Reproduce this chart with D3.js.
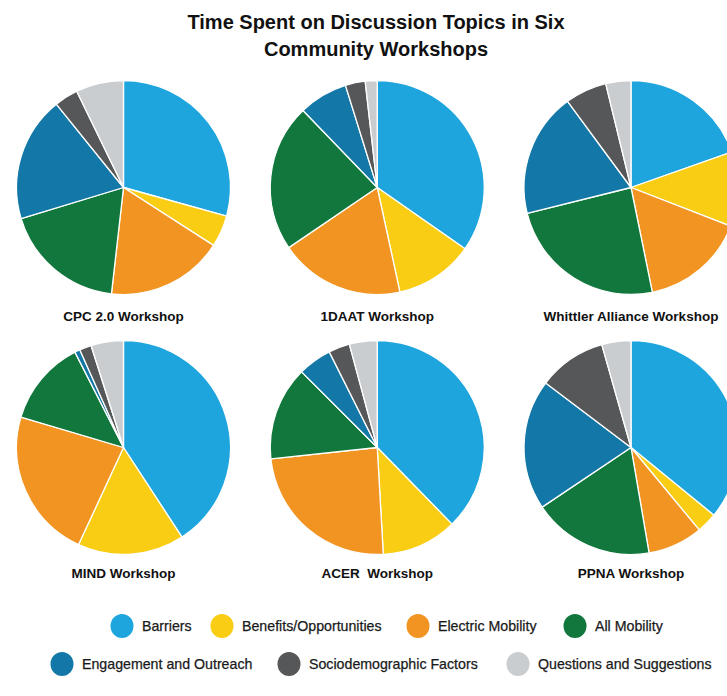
<!DOCTYPE html>
<html>
<head>
<meta charset="utf-8">
<script src="https://cdn.jsdelivr.net/npm/d3@7"></script>
<style>
  html, body { margin: 0; padding: 0; background: #fff; }
  svg { display: block; }
</style>
</head>
<body>
<svg id="chart" width="727" height="696"></svg>
<script>
// Discussion topics, in the order they are stacked clockwise from 12 o'clock
const topics = [
  "Barriers", "Benefits/Opportunities", "Electric Mobility", "All Mobility",
  "Engagement and Outreach", "Sociodemographic Factors", "Questions and Suggestions"
];
const topicColors = ["#1ea5de", "#f8cd14", "#f19422", "#11773c", "#1378a7", "#555759", "#cacdd0"];

const workshops = [
  "CPC 2.0 Workshop", "1DAAT Workshop", "Whittler Alliance Workshop",
  "MIND Workshop", "ACER  Workshop", "PPNA Workshop"
];

// Share of discussion time (%) per topic, one array per workshop
const cpcShares      = [29.3, 4.8, 17.7, 18.5, 18.9, 3.6, 7.2];
const daatShares     = [34.7, 11.9, 18.9, 22.3, 7.4, 3.0, 1.8];
const whittlerShares = [19.6, 11.3, 15.9, 24.3, 18.8, 6.3, 3.8];
const mindShares     = [40.8, 16.1, 22.7, 12.9, 0.8, 1.8, 4.9];
const acerShares     = [37.7, 11.4, 24.2, 14.2, 5.1, 3.2, 4.2];
const ppnaShares     = [35.9, 3.1, 8.3, 18.3, 19.7, 10.3, 4.4];

const shares = [cpcShares, daatShares, whittlerShares, mindShares, acerShares, ppnaShares];

const svg = d3.select("#chart");
const font = "'Liberation Sans', Arial, sans-serif";

// Title
const title = svg.append("text")
  .attr("x", 376).attr("text-anchor", "middle")
  .attr("font-family", font).attr("font-size", 20).attr("font-weight", 700)
  .attr("fill", "#111");
title.append("tspan").attr("x", 376).attr("y", 29).text("Time Spent on Discussion Topics in Six");
title.append("tspan").attr("x", 376).attr("y", 56).text("Community Workshops");

const color = d3.scaleOrdinal().domain(topics).range(topicColors);
const pie = d3.pie().sort(null).value(d => d.value);
const radius = 107;
const arc = d3.arc().innerRadius(0).outerRadius(radius);

// 3 x 2 grid of pies
const col = d3.scalePoint().domain([0, 1, 2]).range([123.5, 631]);
const row = d3.scalePoint().domain([0, 1]).range([187.5, 447.5]);
const labelY = [321, 578];

workshops.forEach((name, i) => {
  const r = Math.floor(i / 3);
  const cx = col(i % 3), cy = row(r);
  const g = svg.append("g").attr("transform", `translate(${cx},${cy})`);
  const data = topics.map((t, k) => ({ topic: t, value: shares[i][k] }));
  g.selectAll("path").data(pie(data)).join("path")
    .attr("d", arc)
    .attr("fill", d => color(d.data.topic))
    .attr("stroke", "#fff")
    .attr("stroke-width", 1.3)
    .attr("stroke-linejoin", "round");
  svg.append("text")
    .attr("x", cx).attr("y", labelY[r])
    .attr("text-anchor", "middle")
    .attr("font-family", font).attr("font-size", 13.5).attr("font-weight", 700)
    .attr("fill", "#111")
    .style("white-space", "pre")
    .text(name);
});

// Legend
const legendRows = [
  { y: 626, items: [[0, 122], [1, 222], [2, 418], [3, 575]] },
  { y: 664, items: [[4, 62], [5, 289], [6, 518]] }
];
legendRows.forEach(r => {
  r.items.forEach(([k, x]) => {
    const g = svg.append("g").attr("transform", `translate(${x},${r.y})`);
    g.append("ellipse").attr("rx", 11.5).attr("ry", 12).attr("fill", color(topics[k]));
    g.append("text")
      .attr("x", 20).attr("y", 5)
      .attr("font-family", font).attr("font-size", 14.2)
      .attr("fill", "#1a1a1a")
      .attr("stroke", "#1a1a1a").attr("stroke-width", 0.25)
      .text(topics[k]);
  });
});
</script>
</body>
</html>
